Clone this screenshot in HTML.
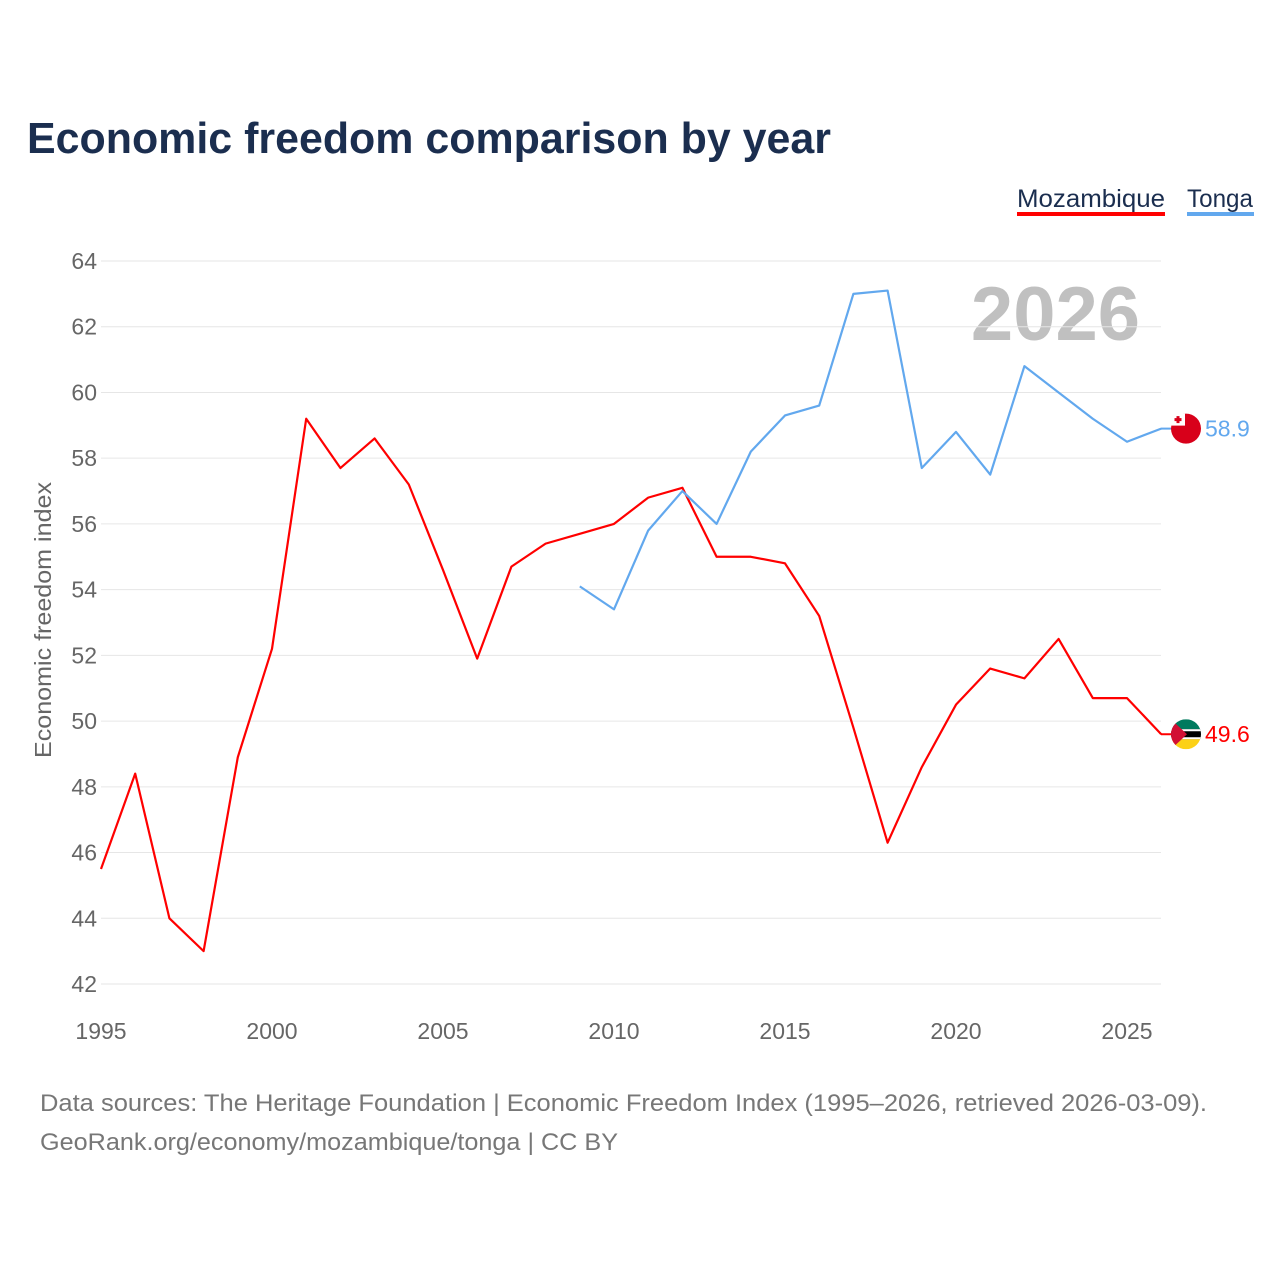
<!DOCTYPE html>
<html><head><meta charset="utf-8"><style>
body{margin:0;background:#fff;font-family:"Liberation Sans",sans-serif;}
#wrap{position:relative;width:1280px;height:1280px;}
</style></head><body>
<div id="wrap">
<svg id="chart" width="1280" height="1280">
<text x="27" y="153" font-size="44" font-weight="bold" fill="#1b2e4f" textLength="804" lengthAdjust="spacingAndGlyphs">Economic freedom comparison by year</text>
<g><text x="1017" y="207" font-size="25" fill="#1b2e4f" textLength="148" lengthAdjust="spacingAndGlyphs">Mozambique</text><rect x="1017" y="212" width="148" height="4" fill="#ff0000"/></g>
<g><text x="1187" y="207" font-size="25" fill="#1b2e4f" textLength="66" lengthAdjust="spacingAndGlyphs">Tonga</text><rect x="1187" y="212" width="67" height="4" fill="#62a8ee"/></g>
<text x="1140" y="340" text-anchor="end" font-size="76" font-weight="bold" fill="#c0c0c0">2026</text>
<g id="grid"></g><g id="yt"></g><g id="xt"></g><g id="lines"></g>
<text transform="translate(51,620) rotate(-90)" text-anchor="middle" font-size="23" fill="#666" textLength="276" lengthAdjust="spacingAndGlyphs">Economic freedom index</text>
<text x="40" y="1111" font-size="24" fill="#777" textLength="1167" lengthAdjust="spacingAndGlyphs">Data sources: The Heritage Foundation | Economic Freedom Index (1995–2026, retrieved 2026-03-09).</text>
<text x="40" y="1150" font-size="24" fill="#777" textLength="578" lengthAdjust="spacingAndGlyphs">GeoRank.org/economy/mozambique/tonga | CC BY</text>
</svg>
</div>
<script>
const years=[1995,1996,1997,1998,1999,2000,2001,2002,2003,2004,2005,2006,2007,2008,2009,2010,2011,2012,2013,2014,2015,2016,2017,2018,2019,2020,2021,2022,2023,2024,2025,2026];
const mozambique=[45.5,48.4,44.0,43.0,48.9,52.2,59.2,57.7,58.6,57.2,54.6,51.9,54.7,55.4,55.7,56.0,56.8,57.1,55.0,55.0,54.8,53.2,49.8,46.3,48.6,50.5,51.6,51.3,52.5,50.7,50.7,49.6];
const tongaYears=[2009,2010,2011,2012,2013,2014,2015,2016,2017,2018,2019,2020,2021,2022,2023,2024,2025,2026];
const tonga=[54.1,53.4,55.8,57.0,56.0,58.2,59.3,59.6,63.0,63.1,57.7,58.8,57.5,60.8,60.0,59.2,58.5,58.9];
const yTicks=[42,44,46,48,50,52,54,56,58,60,62,64];
const xTicks=[1995,2000,2005,2010,2015,2020,2025];
const NS="http://www.w3.org/2000/svg";
const X=y=>101+(y-1995)*34.2;
const Y=v=>261+(64-v)*32.864;
function mk(t,a,p){const e=document.createElementNS(NS,t);for(const k in a)e.setAttribute(k,a[k]);p.appendChild(e);return e;}
const g=document.getElementById('grid'),yt=document.getElementById('yt'),xt=document.getElementById('xt'),L=document.getElementById('lines');
yTicks.forEach(v=>{
 const l=mk('line',{x1:101,x2:1161,y1:Y(v),y2:Y(v),stroke:'#e6e6e6','stroke-width':1},g);
 
 
 const t=mk('text',{x:97,y:Y(v)+8,'text-anchor':'end','font-size':23,fill:'#666'},yt);t.textContent=v;
 
 
});
xTicks.forEach(v=>{
 const t=mk('text',{x:X(v),y:1039,'text-anchor':'middle','font-size':23,fill:'#666'},xt);t.textContent=v;
 
 
});
function line(xs,vs,c,name){
 const p=mk('polyline',{points:xs.map((y,i)=>X(y)+','+Y(vs[i])).join(' '),fill:'none',stroke:c,'stroke-width':2.2,'stroke-linejoin':'round'},L);
 
 
}
line(years,mozambique,'#ff0000','mozambique-line');
line(tongaYears,tonga,'#62a8ee','tonga-line');
function endLabel(v,c,name,flag){
 const yy=Y(v);
 mk('line',{x1:1161,x2:1172,y1:yy,y2:yy,stroke:c,'stroke-width':2},L);
 const f=mk('g',{},L);
 
 
 flag(f,1186,yy);
 const t=mk('text',{x:1205,y:yy+8,'font-size':23,fill:c},L);t.textContent=v.toFixed(1);
 
 
}
endLabel(tonga[tonga.length-1],'#62a8ee','tonga',(f,x,y)=>{
 mk('circle',{cx:x,cy:y,r:15,fill:'#d8001a'},f);
 mk('rect',{x:x-15,y:y-15,width:14,height:12,fill:'#fff'},f);
 mk('rect',{x:x-9.5,y:y-12.5,width:3,height:7,fill:'#d8001a'},f);
 mk('rect',{x:x-11.5,y:y-10.5,width:7,height:3,fill:'#d8001a'},f);
});
endLabel(mozambique[mozambique.length-1],'#ff0000','mozambique',(f,x,y)=>{
 const cp=mk('clipPath',{id:'mzc'},f);mk('circle',{cx:x,cy:y,r:15},cp);
 const h=mk('g',{'clip-path':'url(#mzc)'},f);
 mk('rect',{x:x-15,y:y-15,width:30,height:10,fill:'#007a5e'},h);
 mk('rect',{x:x-15,y:y-5,width:30,height:10,fill:'#000'},h);
 mk('rect',{x:x-15,y:y-5,width:30,height:2,fill:'#fff'},h);
 mk('rect',{x:x-15,y:y+3,width:30,height:2,fill:'#fff'},h);
 mk('rect',{x:x-15,y:y+5,width:30,height:10,fill:'#fcd116'},h);
 mk('polygon',{points:(x-15)+','+(y-15)+' '+(x+1)+','+y+' '+(x-15)+','+(y+15),fill:'#d21034'},h);
});
</script>
</body></html>
